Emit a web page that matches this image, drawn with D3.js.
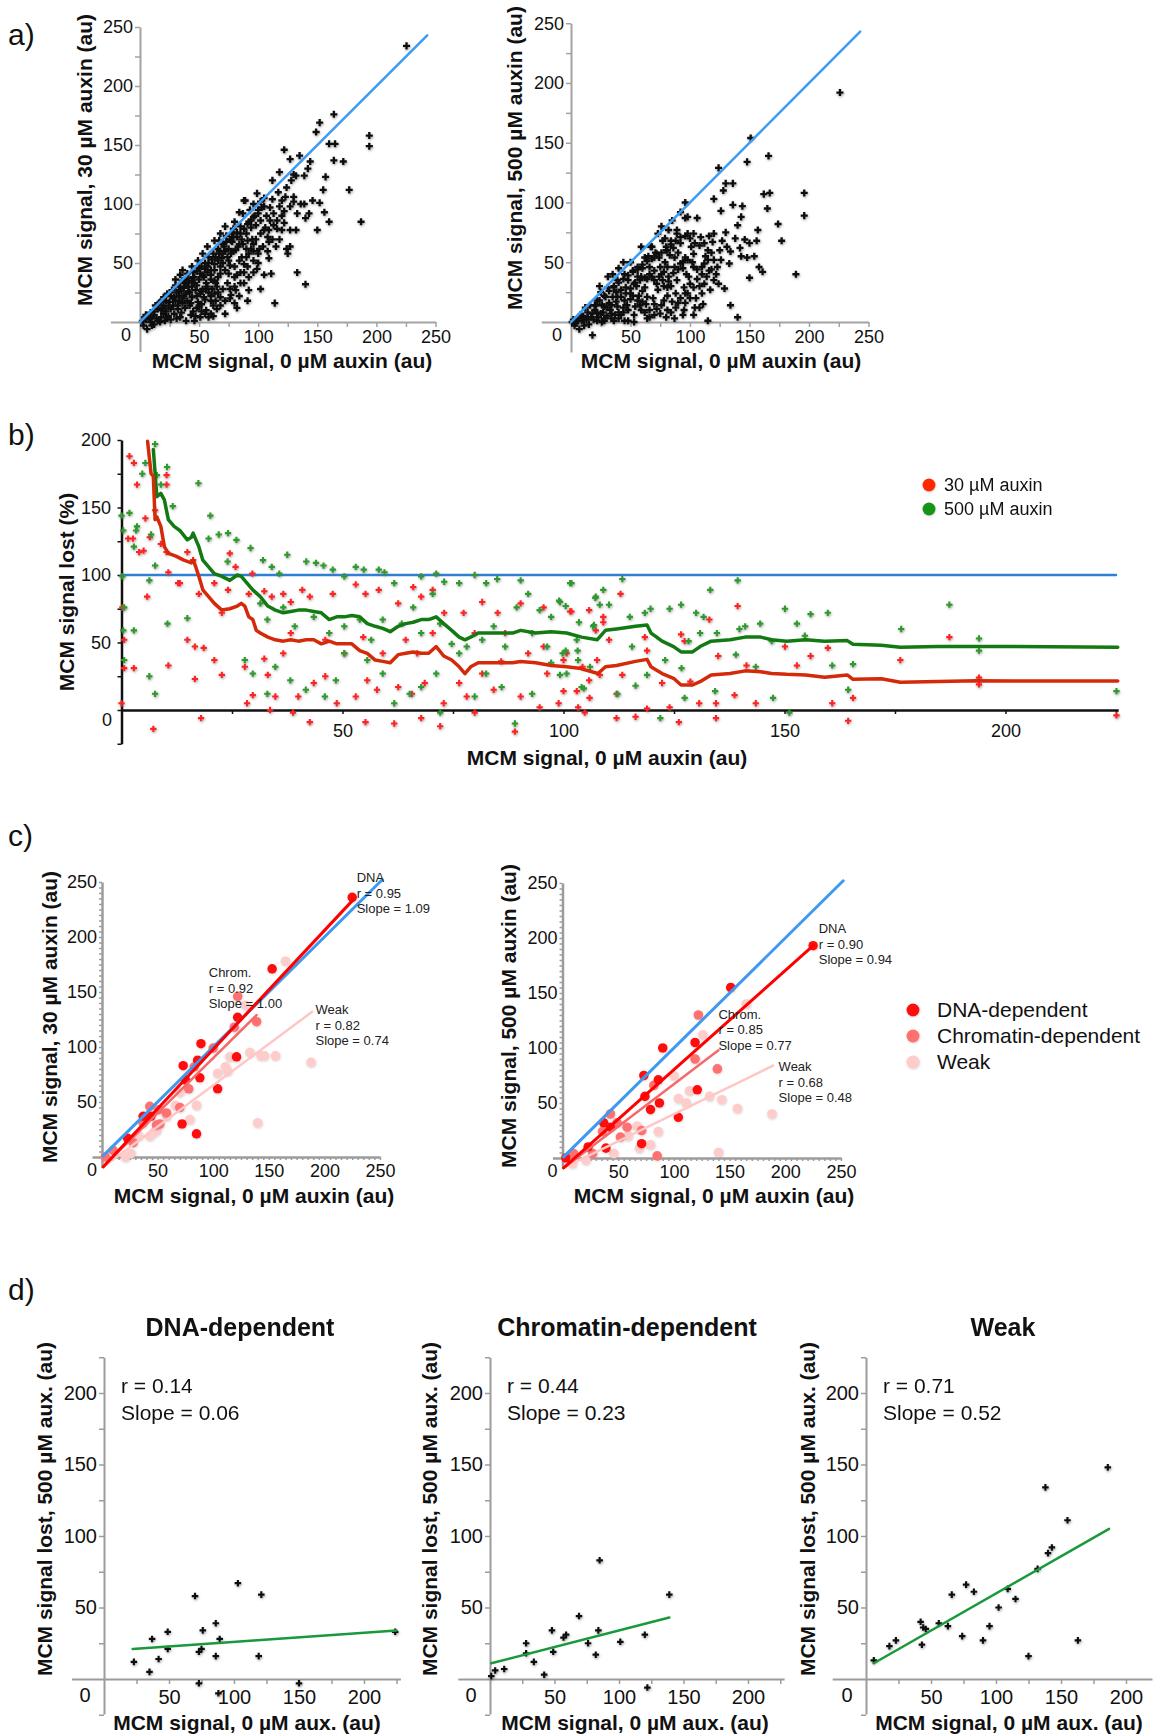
<!DOCTYPE html>
<html>
<head>
<meta charset="utf-8">
<script src="https://cdn.jsdelivr.net/npm/d3@7"></script>
<style>
body { margin: 0; background: #fff; }
</style>
</head>
<body>
<svg id="fig" width="1153" height="1734"></svg>
<script>
var FONT = '"Liberation Sans", Arial, Helvetica, sans-serif';

// ---- tick labels
var aTickLabels = [50, 100, 150, 200, 250];
var bTickLabels = [50, 100, 150, 200];
var cTickLabels = [50, 100, 150, 200, 250];
var dTickLabels = [50, 100, 150, 200];

// ---- a) MCM signal, treated vs 0 uM auxin
var refA = [[0, 0], [243, 243]];
var scatter30 = [[225.5,234],[164,176],[152,169],[149,161],[194,158],[194,149],[160,151],[165,151],[164,137],[172,136],[135,141],[122,146],[127,138],[144,136],[118,127],[112,120],[130,125],[139,124],[142,130],[157,123],[155,112],[177,112],[152,101],[156,93],[146,103],[139,100],[143,92],[160,85],[187,85],[150,78],[132,78],[133,42],[140,32],[114,16],[120,103],[123,106],[130,106],[130,102],[113,92],[120,90],[127,78],[120,78],[127,64],[125,58],[115,64],[109,68],[105,78],[108,72],[109,54],[111,41],[102,28],[105,98],[102,102],[96,100],[89,103],[96,89],[92,85],[85,81],[78,75],[77,69],[84,66],[91,69],[96,66],[101,62],[92,58],[96,52],[88,49],[91,47],[99,45],[85,42],[80,38],[85,33],[92,27],[91,18],[81,27],[77,23],[80,16],[72,7],[68,21],[63,24],[60,18],[56,10],[51,4],[46,1],[43,6],[39,1],[34,4],[29,7],[23,3],[18,4],[15,1],[10,-3],[6,-6],[3,-3],[2,1],[8,3],[12,6],[18,10],[20,14],[15,11],[25,17],[29,21],[23,24],[33,27],[30,31],[36,35],[40,41],[44,47],[49,52],[53,58],[57,64],[63,69],[68,75],[72,81],[80,85],[87,92],[36,44],[40,33],[46,38],[51,41],[57,47],[63,49],[67,58],[71,64],[74,55],[68,41],[63,35],[57,30],[51,24],[44,21],[40,18],[36,16],[32,11],[49,17],[54,21],[65,30],[74,33],[80,47],[84,52],[77,58],[81,61],[60,44],[54,38],[44,30],[39,24],[30,18],[26,11],[20,7],[27,27],[20,21],[16,16],[65,11],[60,7],[68,47],[75,41],[82,40],[88,33],[109,78],[116,79],[124,62],[122,94],[127,98],[116,86],[105,105],[99,109],[88,103],[84,93],[79,79],[73,73],[67,69],[5,2],[9,0],[12,-2],[14,3],[17,0],[21,1],[24,5],[26,2],[31,3],[35,8],[38,12],[42,14],[45,9],[48,12],[52,15],[55,19],[58,25],[61,28],[64,33],[47,27],[42,25],[37,29],[33,22],[28,14],[22,9],[12,9],[7,5],[4,4],[30,36],[34,40],[38,36],[45,42],[50,46],[55,50],[58,55],[62,58],[66,62],[70,58],[75,62],[78,68],[82,72],[86,70],[90,75],[94,80],[98,82],[102,86],[100,92],[93,95],[70,50],[76,48],[72,44],[66,38],[60,36],[56,33],[53,28],[48,31],[44,35],[41,30],[35,26],[70,28],[76,20],[82,12],[62,14],[58,4],[52,9],[66,25],[86,55],[90,62],[95,70],[107,90],[110,97],[117,110],[124,114],[128,120],[132,124],[112,104],[118,98],[96,60],[100,50],[105,40],[118,70],[122,84],[133,92],[136,100],[140,88],[22,18],[26,22],[31,25],[34,30],[38,33],[41,37],[45,38],[48,43],[52,47],[55,45],[58,50],[61,53],[64,55],[67,60],[70,66],[73,68],[76,70],[79,72],[82,76],[85,75],[88,79],[91,83],[94,86],[97,90],[100,95],[103,97],[28,20],[33,18],[37,22],[41,26],[46,33],[50,36],[53,40],[57,42],[60,40],[63,44],[66,52],[69,54],[72,60],[75,52],[79,60],[83,64],[87,66],[90,55],[94,62],[98,70],[102,75],[106,80],[110,86],[113,82],[48,22],[52,26],[56,28],[60,22],[64,18],[68,14],[72,18],[76,28],[80,30],[84,22],[88,42],[92,38],[96,42],[100,58],[104,64],[108,60],[112,70],[19,12],[24,13],[32,14],[36,20],[43,16],[47,5],[55,7],[50,13],[62,5],[5,6],[9,8],[13,14],[17,17],[10,4]];
var scatter500 = [[226,192],[151,154],[166,139],[148,134],[124,129],[130,116],[136,116],[128,110],[96,100],[162,107],[167,108],[196,108],[196,89],[106,87],[96,87],[120,103],[126,93],[136,98],[144,97],[143,88],[140,81],[165,95],[174,82],[177,68],[157,77],[156,68],[146,69],[154,55],[148,54],[143,55],[189,40],[150,37],[161,42],[158,46],[134,59],[133,49],[131,63],[127,68],[120,74],[119,67],[115,60],[112,49],[116,43],[120,35],[129,28],[134,14],[140,4],[115,1],[110,24],[111,15],[103,29],[99,38],[103,46],[96,54],[101,63],[92,66],[103,74],[109,71],[98,74],[89,74],[84,68],[80,60],[87,54],[92,49],[87,46],[89,35],[95,29],[98,24],[92,20],[88,24],[95,10],[103,6],[81,29],[77,35],[75,46],[74,54],[77,68],[73,74],[67,63],[70,54],[66,46],[68,38],[73,27],[78,18],[81,10],[75,7],[70,15],[64,21],[62,29],[59,38],[56,46],[62,54],[59,63],[68,63],[53,32],[50,24],[56,18],[59,10],[53,6],[48,10],[45,18],[42,27],[48,35],[45,40],[39,35],[36,29],[35,21],[39,13],[34,7],[28,13],[29,21],[31,29],[25,25],[22,18],[20,10],[17,4],[14,8],[11,3],[8,6],[6,1],[3,-3],[7,-6],[1,0],[11,-3],[18,-11],[22,1],[28,3],[25,7],[21,14],[42,6],[36,1],[48,1],[53,0],[64,3],[70,6],[87,3],[94,6],[81,22],[85,17],[64,36],[70,43],[81,46],[82,38],[52,43],[56,38],[31,38],[35,40],[39,21],[45,1],[92,92],[98,88],[89,77],[82,77],[81,60],[103,57],[115,52],[120,52],[123,46],[126,52],[124,32],[117,27],[2,2],[4,-1],[9,1],[13,2],[15,-2],[19,2],[23,4],[26,0],[30,5],[33,10],[37,6],[40,3],[44,8],[47,14],[50,19],[54,13],[57,22],[60,26],[63,15],[66,10],[69,20],[72,32],[76,40],[79,50],[83,56],[86,62],[90,58],[94,45],[97,40],[100,32],[105,20],[108,12],[60,45],[65,55],[71,58],[78,42],[84,30],[40,45],[44,50],[38,25],[32,16],[27,8],[12,12],[16,14],[24,30],[50,50],[55,30],[88,12],[96,16],[106,36],[110,40],[113,55],[118,58],[125,60],[130,75],[138,70],[142,62],[150,66],[85,85],[79,70],[76,80],[20,14],[24,18],[28,22],[32,26],[36,30],[40,33],[44,36],[48,39],[52,42],[56,44],[60,48],[64,51],[68,53],[72,57],[76,58],[80,63],[84,65],[88,68],[92,71],[96,72],[100,70],[104,66],[108,64],[112,66],[116,72],[34,14],[38,17],[42,21],[46,24],[50,28],[54,33],[58,35],[62,37],[66,40],[70,35],[74,38],[78,30],[82,34],[86,41],[90,44],[94,50],[98,52],[102,50],[106,44],[110,46],[114,38],[118,44],[122,40],[58,14],[62,8],[66,4],[72,11],[76,14],[80,4],[84,8],[90,16],[96,24],[100,20],[104,12],[108,30],[112,32],[30,12],[26,14],[22,8],[18,7],[14,4],[10,5],[6,3],[46,29],[52,22],[44,12],[40,8],[34,3],[28,1],[60,17]];

// ---- b) % signal lost vs 0 uM signal
var lost30 = [[1.8,188],[2.8,183],[3.5,167],[1.5,127],[2.6,127],[4,117],[5,118],[5.4,142],[6.4,128],[7.6,148],[10.2,174],[10.2,167],[8.9,123],[10.2,117],[10.6,102],[12.8,94],[13.2,94],[14.9,117],[16.2,111],[17.5,86],[21,94],[24.5,116],[24.1,89],[25.8,106],[29.6,101],[28.8,86],[32.3,88],[34,84],[36.6,86],[38.3,80],[40.9,89],[42.6,84],[47.8,86],[53,93],[55.2,86],[58.2,89],[62.6,79],[66,91],[67.8,84],[70.4,89],[73,72],[77.4,72],[81.6,80],[85.1,72],[90.3,79],[95.5,76],[101.5,73],[105.8,74],[0.2,76],[0.6,52],[0.6,31],[2.8,31],[5.8,84],[0,5],[10.6,33],[14.9,52],[16.6,47],[18.6,46],[16.6,23],[18,-6],[22.7,26],[21,37],[22.7,72],[27.9,32],[28.4,5],[29.7,11],[32.3,38],[33.1,26],[33.6,0],[34.8,10],[36.6,42],[38.8,-2],[40,10],[42.6,-9],[43.5,20],[46.1,25],[48.7,5],[50.4,42],[53,10],[55.2,-9],[55.6,22],[57.8,15],[59.1,42],[61.7,-10],[62.6,17],[65.7,12],[66.9,42],[67.8,-6],[68.6,20],[72.1,-12],[72.9,5],[76.4,20],[78.1,10],[79.9,-2],[81.6,27],[84.2,15],[85.9,36],[89,-16],[90.3,10],[92,42],[94.6,2],[96.3,27],[98.9,5],[100.7,42],[103.3,2],[105.8,22],[107.6,37],[79.9,57],[70.4,57],[64.3,52],[54.7,54],[46.1,52],[38.3,57],[86.8,57],[95.5,47],[7.2,-14],[112.9,86],[101.8,73],[109,69],[109,65],[107.3,59],[110.3,52],[118.4,54],[118.9,44],[126.6,56],[127.4,51],[133,67],[135,40],[139.4,77],[141.4,33],[150.1,47],[152.8,33],[155.9,40],[159.8,46],[176.2,37],[187.3,54],[194,24],[194,19],[225.1,-4],[164.4,-8],[165.5,9],[160.8,5],[143.5,5],[138.7,11],[134.5,5],[134.5,-6],[130.7,5],[128.7,21],[126.1,-9],[124,2],[122.3,20],[118.9,1],[116.3,-5],[112,-6],[112,12],[113.3,26],[108.2,26],[105.9,9],[103,14],[104.3,32],[100,37],[100,14],[104.8,-2]];
var lost500 = [[0,144],[0.4,133],[1.8,146],[3.5,136],[2.8,121],[5.4,183],[4.7,175],[6.7,130],[7.6,197],[8,174],[8.9,167],[10.3,180],[11.6,151],[7.6,107],[3.3,133],[6.3,96],[0.6,76],[0.4,59],[2.8,59],[0.6,37],[6.3,25],[7.6,12],[10.4,64],[14.9,68],[17.4,168],[20.1,144],[19.7,127],[22,130],[24.1,131],[26,126],[24,110],[29.2,120],[32,111],[34,106],[37.5,115],[35.7,101],[41.8,110],[44,109],[45.7,107],[47.8,104],[50.4,99],[53,106],[54.8,104],[58.2,104],[59.5,102],[61.7,94],[67.8,99],[71.2,101],[73,95],[76.4,94],[79.9,100],[82.5,94],[85,97],[90.3,96],[92,86],[94.6,74],[97.2,69],[101.5,94],[99,81],[107.2,83],[31.4,79],[33,67],[36.6,76],[39.2,62],[43.5,69],[47,57],[50.4,62],[53.9,67],[56.5,52],[59.1,67],[63.4,64],[66,76],[67.8,57],[70.4,86],[72.1,64],[74.7,49],[78.1,47],[81.6,52],[84.2,62],[86.8,47],[89.4,76],[92.9,57],[96.3,47],[99.8,42],[103.2,44],[106.7,62],[27.9,37],[29.7,27],[33,12],[34.8,32],[38.2,22],[41.7,15],[46,10],[48.5,22],[50.4,42],[55.6,37],[59.1,27],[61.7,5],[65.2,12],[67.8,17],[71.2,27],[72.1,-2],[76.4,42],[79.9,10],[82.5,27],[86,17],[89,-10],[92.9,12],[97.2,35],[100.7,27],[104.1,17],[0.2,99],[101.8,94],[107.3,84],[109,89],[113.3,97],[108.2,78],[110.3,78],[99.2,80],[100.5,77],[103.5,65],[106.9,63],[115,69],[118.4,72],[119.7,75],[124,75],[126.6,78],[130,72],[131.7,69],[133.2,89],[139.4,96],[139.8,60],[141.1,62],[144.5,64],[150.1,75],[152.8,64],[155.9,71],[159.8,72],[176.4,60],[187.3,78],[194,53],[194,44],[225.1,14],[160.8,33],[165.5,34],[164.4,15],[154.6,55],[147.1,51],[143.5,32],[147.4,9],[151.1,-2],[139,41],[134.3,14],[134.7,57],[130.9,57],[128.3,51],[126.7,31],[127.4,9],[121.9,-6],[118.9,26],[123,37],[116.3,18],[112.2,12],[115.5,47],[104.6,16],[99.2,26],[103.3,37],[106,32],[103,52],[100.5,44]];
var avg30 = [[5.9,199],[6.7,175],[7.2,173],[7.6,141],[8,143],[8.9,136],[9.7,121],[10.6,116],[12.3,114],[14.1,111],[15.8,109],[16.2,111],[16.7,107],[17.5,99],[18.4,89],[19.7,84],[21,79],[22.7,74],[24.5,75],[26.2,77],[27.1,79],[27.9,77],[28.8,69],[29.7,67],[30.5,59],[31.4,57],[33.1,54],[34.8,52],[36.6,51],[38.3,52],[40,51],[41.8,52],[43.5,52],[45.2,49],[47,51],[48.7,49],[50.4,49],[52.1,49],[53.9,44],[55.6,42],[57.4,37],[59.1,36],[60.8,35],[62.6,41],[64.3,42],[66,43],[67.8,42],[69.5,42],[71.2,47],[72.9,40],[74.7,37],[76.4,32],[77.7,27],[79,32],[80.7,35],[85.1,35],[88.5,35],[90.3,36],[93.7,35],[97.2,33],[100.7,32],[103.5,31],[107.8,27],[109.5,32],[112,33],[116.3,36],[118.9,37.5],[119.8,32],[122.3,27],[124.9,23.5],[126.6,18.5],[129.2,18.5],[130.9,21],[133.4,26],[137.7,27],[141.1,29],[144.6,28.4],[147.1,27],[150.5,26.4],[154.8,26],[159.1,24.2],[164.2,26],[165.5,22.7],[171.9,23.2],[176.2,20.5],[184.8,21.2],[193.3,21.7],[201.9,21.5],[225.4,21.5]];
var avg500 = [[7.2,193],[8,158],[8.9,160.5],[9.7,155.6],[10.6,141],[11.9,136],[13.2,133],[14.9,126],[15.8,128],[16.2,131],[17.5,121],[18.4,111],[19.7,106],[21,101],[22.7,99],[24.5,96],[26.2,100],[27.1,99],[28.4,94],[29.7,89],[31.4,84],[33.1,77],[34.8,74],[36.6,72],[38.3,73],[40,74],[41.8,74],[43.5,73],[45.2,72],[47,67],[48.7,69],[50.4,69],[52.1,70],[53.9,69],[55.6,64],[57.4,62],[59.1,60.5],[60.8,58],[62.6,62],[64.3,64],[66,65],[67.8,67],[69.5,67],[71.2,69],[72.9,64],[74.7,59],[76.4,54],[77.7,52],[79,54],[80.7,57],[85.1,57],[88.5,57],[90.3,59],[93.7,57],[97.2,58],[100.7,57],[104.1,54],[107.6,52],[109.5,59],[112,60],[116.3,62],[118.9,63],[119.8,57],[122.3,51],[124.9,47],[126.6,43],[129.2,43],[130.9,47],[133.4,51],[137.7,52],[141.1,54],[144.6,54],[147.1,52],[150.5,51],[154.8,52],[159.1,51],[164.2,51.4],[165.5,48.7],[171.9,48],[176.2,46.4],[184.8,47],[193.3,47],[201.9,47],[225.4,46.4]];

// ---- c) binding classes
var refC = [[1, 1], [252, 252]];
var c30Dna = [[225,236],[153,171],[122,127],[121,91],[89,103],[86,88],[73,83],[88,72],[75,70],[104,62],[72,30],[85,21],[37,37],[44,37],[23,17]];
var c30Chrom = [[78,62],[43,46],[37,31],[10,6],[3,0],[51,43],[58,40],[49,29],[52,30],[122,146],[119,118],[139,123],[100,99],[83,82],[28,13],[70,45]];
var c30Weak = [[165,178],[133,95],[143,92],[146,92],[156,92],[188,86],[140,31],[115,91],[111,82],[104,76],[85,47],[79,34],[66,47],[58,37],[46,22],[43,19],[49,24],[26,3],[21,0],[33,19],[129,138],[113,78],[70,59]];
var c500Dna = [[225,193],[151,155],[90,100],[119,105],[73,75],[74,56],[87,50],[86,71],[79,44],[121,62],[104,37],[71,13],[37,32],[43,28],[23,10],[39,9],[3,0]];
var c500Chrom = [[122,130],[139,81],[119,90],[82,66],[43,40],[36,24],[49,32],[58,28],[52,19],[71,25],[85,2],[10,4],[27,4]];
var c500Weak = [[165,140],[126,112],[100,75],[114,61],[104,54],[111,50],[132,56],[143,53],[157,45],[188,40],[140,5],[86,24],[79,12],[69,9],[46,4],[59,20],[67,29],[21,-2],[9,-5]];
// fit segments [x0, y0, x1, y1]
var fit30 = [[1,-9,189,132],[1,-9,139,129],[1,-9,226,234]];
var fit500 = [[1,-9,189,84],[1,-9,140,98],[1,-9,225,193]];
var fitStats30 = [["Weak","r = 0.82","Slope = 0.74"],["Chrom.","r = 0.92","Slope = 1.00"],["DNA","r = 0.95","Slope = 1.09"]];
var fitStats500 = [["Weak","r = 0.68","Slope = 0.48"],["Chrom.","r = 0.85","Slope = 0.77"],["DNA","r = 0.90","Slope = 0.94"]];
var fitAnchor30 = [[192,134.5],[96,168],[229,254.5]];
var fitAnchor500 = [[194,83.6],[140,131],[230,209]];
var classNames = ["DNA-dependent", "Chromatin-dependent", "Weak"];

// ---- d) signal lost (500 uM) per class
var dDna = [[23,12],[35,5],[37,28],[42,14],[49,33],[49,21],[70,58],[73,19],[75,21],[76,34],[73,-3],[86,39],[86,16],[89,28],[88,-10],[103,67],[121,59],[119,16],[150,-3],[224,33]];
var dChrom = [[1,2],[4,6],[11,7],[28,25],[28,18],[34,12],[42,3],[48,34],[49,19],[57,29],[59,31],[69,44],[76,25],[82,17],[84,34],[85,83],[101,26],[120,31],[122,-6],[139,59]];
var dWeak = [[6,13],[18,23],[23,27],[42,40],[43,24],[44,36],[46,35],[56,39],[63,37],[66,59],[74,30],[77,66],[83,61],[90,27],[95,37],[102,50],[109,63],[115,56],[125,16],[132,77],[138,134],[140,88],[143,92],[155,111],[163,27],[186,148]];
var dFits = [[22,21,225,34],[1,11,139,43],[6,11,187,105]];
var dStats = [["r = 0.14","Slope = 0.06"],["r = 0.44","Slope = 0.23"],["r = 0.71","Slope = 0.52"]];

var svg = d3.select("#fig");
svg.append("rect").attr("width", 1153).attr("height", 1734).attr("fill", "#fff");

var defs = svg.append("defs");
defs.append("filter").attr("id", "shade")
  .attr("x", "-20%").attr("y", "-20%").attr("width", "140%").attr("height", "140%")
  .append("feDropShadow").attr("dx", 0.6).attr("dy", 1.2).attr("stdDeviation", 1.3)
  .attr("flood-color", "#555").attr("flood-opacity", 0.55);
defs.append("filter").attr("id", "soft")
  .attr("x", "-20%").attr("y", "-20%").attr("width", "140%").attr("height", "140%")
  .append("feDropShadow").attr("dx", 0.5).attr("dy", 1).attr("stdDeviation", 1)
  .attr("flood-color", "#999").attr("flood-opacity", 0.4);

//builds a pair of linear scales from the pixel of the origin and the pixels per unit
function scales(px0, ux, xd, py0, uy, yd) {
  return {
    x: d3.scaleLinear().domain(xd).range([px0 + xd[0] * ux, px0 + xd[1] * ux]),
    y: d3.scaleLinear().domain(yd).range([py0 - yd[0] * uy, py0 - yd[1] * uy])
  };
}

//axes crossing at zero, excel style
function drawAxes(s, o) {
  var fmt = function(d) { return o.labels.indexOf(d) >= 0 ? d : ""; };
  var gx = svg.append("g")
    .attr("transform", "translate(0," + s.y(0) + ")")
    .call(d3.axisBottom(s.x).tickValues(o.xTicks).tickSize(o.tick).tickSizeOuter(0)
      .tickPadding(o.xPad).tickFormat(fmt));
  var gy = svg.append("g")
    .attr("transform", "translate(" + s.x(0) + ",0)")
    .call(d3.axisLeft(s.y).tickValues(o.yTicks).tickSize(o.tick).tickSizeOuter(0)
      .tickPadding(o.yPad).tickFormat(fmt));
  [gx, gy].forEach(function(g) {
    g.select(".domain").attr("stroke", o.color).attr("stroke-width", o.width);
    g.selectAll(".tick line").attr("stroke", o.color).attr("stroke-width", 1.5);
    g.selectAll(".tick text").attr("fill", "#111")
      .style("font-size", o.fs + "px").style("font-family", FONT);
  });
  text(s.x(0) + o.zero[0], s.y(0) + o.zero[1], "0", o.fs, false, "middle");
}

function text(x, y, s, size, bold, anchor) {
  return svg.append("text").attr("x", x).attr("y", y)
    .attr("fill", "#111")
    .attr("text-anchor", anchor || "start")
    .attr("font-weight", bold ? "bold" : "normal")
    .style("font-size", size + "px").style("font-family", FONT)
    .text(s);
}

function vtext(cx, cy, s) {
  svg.append("text").attr("transform", "translate(" + cx + "," + cy + ") rotate(-90)")
    .attr("text-anchor", "middle").attr("font-weight", "bold").attr("fill", "#111")
    .style("font-size", "21px").style("font-family", FONT)
    .text(s);
}

//chunky plus shaped markers with a soft shadow
function markers(s, pts, color, size) {
  svg.append("g").attr("filter", "url(#shade)")
    .selectAll("path").data(pts).join("path")
    .attr("d", d3.symbol(d3.symbolCross, size || 28))
    .attr("transform", function(d) { return "translate(" + s.x(d[0]) + "," + s.y(d[1]) + ")"; })
    .attr("fill", color);
}

function dots(s, pts, color, r) {
  svg.append("g").attr("filter", "url(#soft)")
    .selectAll("circle").data(pts).join("circle")
    .attr("cx", function(d) { return s.x(d[0]); })
    .attr("cy", function(d) { return s.y(d[1]); })
    .attr("r", r).attr("fill", color);
}

function line(s, pts, color, w) {
  svg.append("path").datum(pts)
    .attr("d", d3.line().x(function(d) { return s.x(d[0]); }).y(function(d) { return s.y(d[1]); }))
    .attr("fill", "none").attr("stroke", color).attr("stroke-width", w)
    .attr("stroke-linejoin", "round").attr("stroke-linecap", "round");
}

// panel letters
text(8, 45, "a)", 30);
text(8, 445, "b)", 30);
text(8, 846, "c)", 30);
text(8, 1300, "d)", 30);

// ===== a)
var q25 = d3.range(25, 251, 25);
var aAx = { xTicks: q25, yTicks: q25, labels: aTickLabels, tick: 5, xPad: 3, yPad: 2,
  color: "#a3a3a3", width: 2, fs: 18, zero: [-14, 19] };

var aL = scales(140, 1.182, [-25, 250], 322, 1.18, [-25, 250]);
drawAxes(aL, aAx);
markers(aL, scatter30, "#111");
line(aL, refA, "#3d9bf3", 2.5);
vtext(92, 160, "MCM signal, 30 µM auxin (au)");
text(292, 368, "MCM signal, 0 µM auxin (au)", 21, true, "middle");

var aR = scales(571, 1.19, [-25, 250], 322, 1.195, [-25, 250]);
drawAxes(aR, aAx);
markers(aR, scatter500, "#111");
line(aR, refA, "#3d9bf3", 2.5);
vtext(522, 158, "MCM signal, 500 µM auxin (au)");
text(721, 368, "MCM signal, 0 µM auxin (au)", 21, true, "middle");

// ===== b)
var bS = scales(121.5, 4.42, [0, 225.5], 710, 1.35, [-25, 200]);
drawAxes(bS, { xTicks: d3.range(25, 226, 25), yTicks: d3.range(-25, 201, 25), labels: bTickLabels,
  tick: 4, xPad: 10, yPad: 6.5, color: "#111", width: 2.5, fs: 18, zero: [-14.5, 16] });
line(bS, [[0, 100], [225, 100]], "#2f80d2", 2.5);
markers(bS, lost30, "#ff2424", 22);
markers(bS, lost500, "#2f9a2f", 22);
line(bS, avg500, "#137a13", 3.5);
line(bS, avg30, "#d42a0a", 3.5);
vtext(74, 592, "MCM signal lost (%)");
text(607, 765, "MCM signal, 0 µM auxin (au)", 21, true, "middle");

svg.append("circle").attr("cx", 929).attr("cy", 485).attr("r", 6.5).attr("fill", "#ff2a00").attr("filter", "url(#soft)");
svg.append("circle").attr("cx", 929).attr("cy", 509).attr("r", 6.5).attr("fill", "#149414").attr("filter", "url(#soft)");
text(944, 491, "30 µM auxin", 18);
text(944, 515, "500 µM auxin", 18);

// ===== c)
var classColors = ["#ff0a0a", "#ff7070", "#ffcccc"];
var fitColors = ["#ffc6c6", "#f46a6a", "#ff0000"];
var cAx = { xTicks: d3.range(5, 251, 5), yTicks: d3.range(5, 251, 5), labels: cTickLabels,
  tick: 3, xPad: 4.7, yPad: 2, color: "#9c9c9c", width: 2.5, fs: 18, zero: [-10, 19] };

function classPanel(s, dna, chrom, weak, fits, stats, anchors) {
  drawAxes(s, cAx);
  dots(s, weak, classColors[2], 4.8);
  dots(s, chrom, classColors[1], 4.8);
  dots(s, dna, classColors[0], 4.8);
  line(s, refC, "#3f99f0", 3);
  fits.forEach(function(f, i) {
    line(s, [[f[0], f[1]], [f[2], f[3]]], fitColors[i], i === 2 ? 3 : 2.5);
  });
  stats.forEach(function(lines, i) {
    lines.forEach(function(t, j) {
      text(s.x(anchors[i][0]), s.y(anchors[i][1]) + 5 + j * 15.5, t, 13).attr("fill", "#222");
    });
  });
}

var cL = scales(102, 1.112, [-9, 250], 1157, 1.1, [-9, 250]);
classPanel(cL, c30Dna, c30Chrom, c30Weak, fit30, fitStats30, fitAnchor30);
vtext(57, 1017, "MCM signal, 30 µM auxin (au)");
text(254, 1203, "MCM signal, 0 µM auxin (au)", 21, true, "middle");

var cR = scales(562.5, 1.114, [-9, 250], 1158, 1.1, [-9, 250]);
classPanel(cR, c500Dna, c500Chrom, c500Weak, fit500, fitStats500, fitAnchor500);
vtext(516, 1016, "MCM signal, 500 µM auxin (au)");
text(714, 1203, "MCM signal, 0 µM auxin (au)", 21, true, "middle");

classNames.forEach(function(n, i) {
  svg.append("circle").attr("cx", 913).attr("cy", 1010 + i * 26).attr("r", 6.5)
    .attr("fill", classColors[i]).attr("filter", "url(#soft)");
  text(937, 1017 + i * 26, n, 21);
});

// ===== d)
var dAx = { xTicks: q25.slice(0, 9), yTicks: d3.range(-25, 226, 25).filter(function(v) { return v !== 0; }),
  labels: dTickLabels, tick: 5, xPad: 5.8, yPad: 2, color: "#9c9c9c", width: 2, fs: 20, zero: [-19, 23] };
var dScales = [
  scales(104, 1.3, [-25, 228], 1679, 1.43, [-24.5, 225]),
  scales(490, 1.29, [-25, 228], 1679, 1.43, [-24.5, 225]),
  scales(866, 1.3, [-26, 220], 1679, 1.43, [-24.5, 225])
];
var dData = [dDna, dChrom, dWeak];
var dTitleX = [240, 627, 1003];
var dYLabX = [52, 437, 815];
var dXLabX = [247, 635, 1009];

dScales.forEach(function(s, i) {
  drawAxes(s, dAx);
  markers(s, dData[i], "#111", 24);
  var f = dFits[i];
  line(s, [[f[0], f[1]], [f[2], f[3]]], "#18993c", 2.5);
  text(dTitleX[i], 1336, classNames[i], 25, true, "middle");
  text(s.x(0) + 17, 1393, dStats[i][0], 21);
  text(s.x(0) + 17, 1420, dStats[i][1], 21);
  vtext(dYLabX[i], 1509, "MCM signal lost, 500 µM aux. (au)");
  text(dXLabX[i], 1730, "MCM signal, 0 µM aux. (au)", 21, true, "middle");
});
</script>
</body>
</html>
